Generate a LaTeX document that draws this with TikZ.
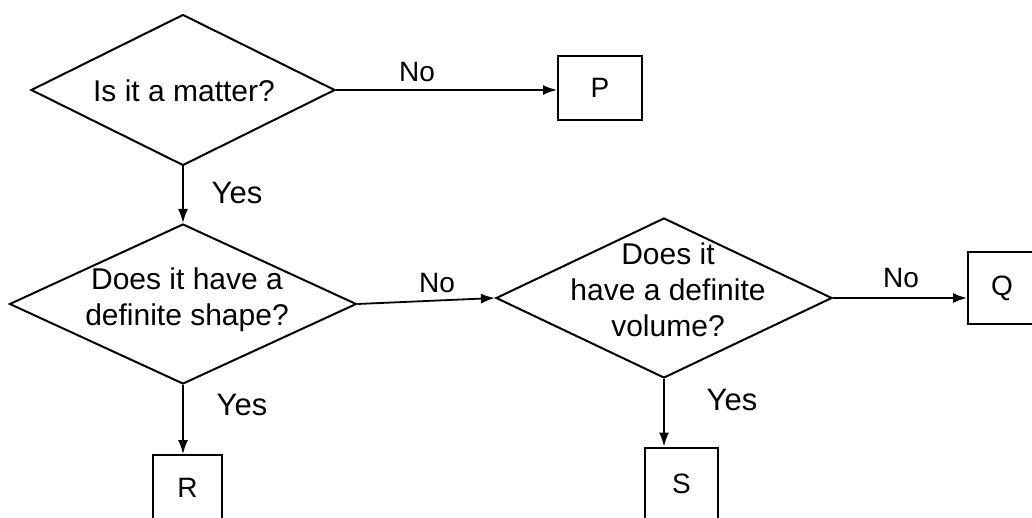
\documentclass[tikz,border=0pt]{standalone}
\usepackage{fontspec}
\setmainfont{Liberation Sans}
\usetikzlibrary{shapes.geometric,arrows.meta}
\begin{document}
\begin{tikzpicture}[x=1pt,y=-1pt,
  dec/.style={diamond, draw, line width=2pt, inner sep=0pt},
  box/.style={draw, line width=2pt, inner sep=0pt, font=\fontsize{28}{32}\selectfont},
  txt/.style={font=\fontsize{30}{36}\selectfont, align=center, inner sep=0pt},
  nolbl/.style={font=\fontsize{28}{32}\selectfont, inner sep=0pt},
  yeslbl/.style={font=\fontsize{31}{36}\selectfont, inner sep=0pt},
  conn/.style={line width=1.8pt, -{Latex[length=14pt,width=10pt]}}]
\useasboundingbox (0,0) rectangle (1032,518);
\clip (0,0) rectangle (1032,518);
% decisions
\node[dec, minimum width=304, minimum height=151] (d1) at (183,90) {};
\node[txt] (t1) at (184,91) {Is it a matter?};
\node[dec, minimum width=347, minimum height=160] (d2) at (183,304) {};
\node[txt] (t2) at (187,300) {Does it have a\\definite shape?};
\node[dec, minimum width=336, minimum height=160] (d3) at (664,298) {};
\node[txt] (t3) at (668,290) {Does it\\have a definite\\volume?};
% outcomes
\node[box, minimum width=84, minimum height=64] (p) at (600,88) {P};
\node[box, minimum width=68, minimum height=71] (q) at (1002,288) {Q};
\node[box, minimum width=69, minimum height=66] (r) at (187.5,488) {R};
\node[box, minimum width=73, minimum height=73] (s) at (681.5,484) {S};
% connectors
\draw[conn] (d1.east) -- (d1.east -| p.west);
\draw[conn] (d1.south) -- (d1.south |- d2.north);
\draw[conn] (d2.south) -- (d2.south |- r.north);
\draw[conn] (d2.east) -- (d3.west);
\draw[conn] (d3.east) -- (d3.east -| q.west);
\draw[conn] (d3.south) -- (d3.south |- s.north);
% labels
\node[nolbl] (n1) at (417,72) {No};
\node[nolbl] (n2) at (437,283) {No};
\node[nolbl] (n3) at (901,278) {No};
\node[yeslbl] (y1) at (237,193) {Yes};
\node[yeslbl] (y2) at (242,405) {Yes};
\node[yeslbl] (y3) at (732,400) {Yes};
\end{tikzpicture}
\end{document}
